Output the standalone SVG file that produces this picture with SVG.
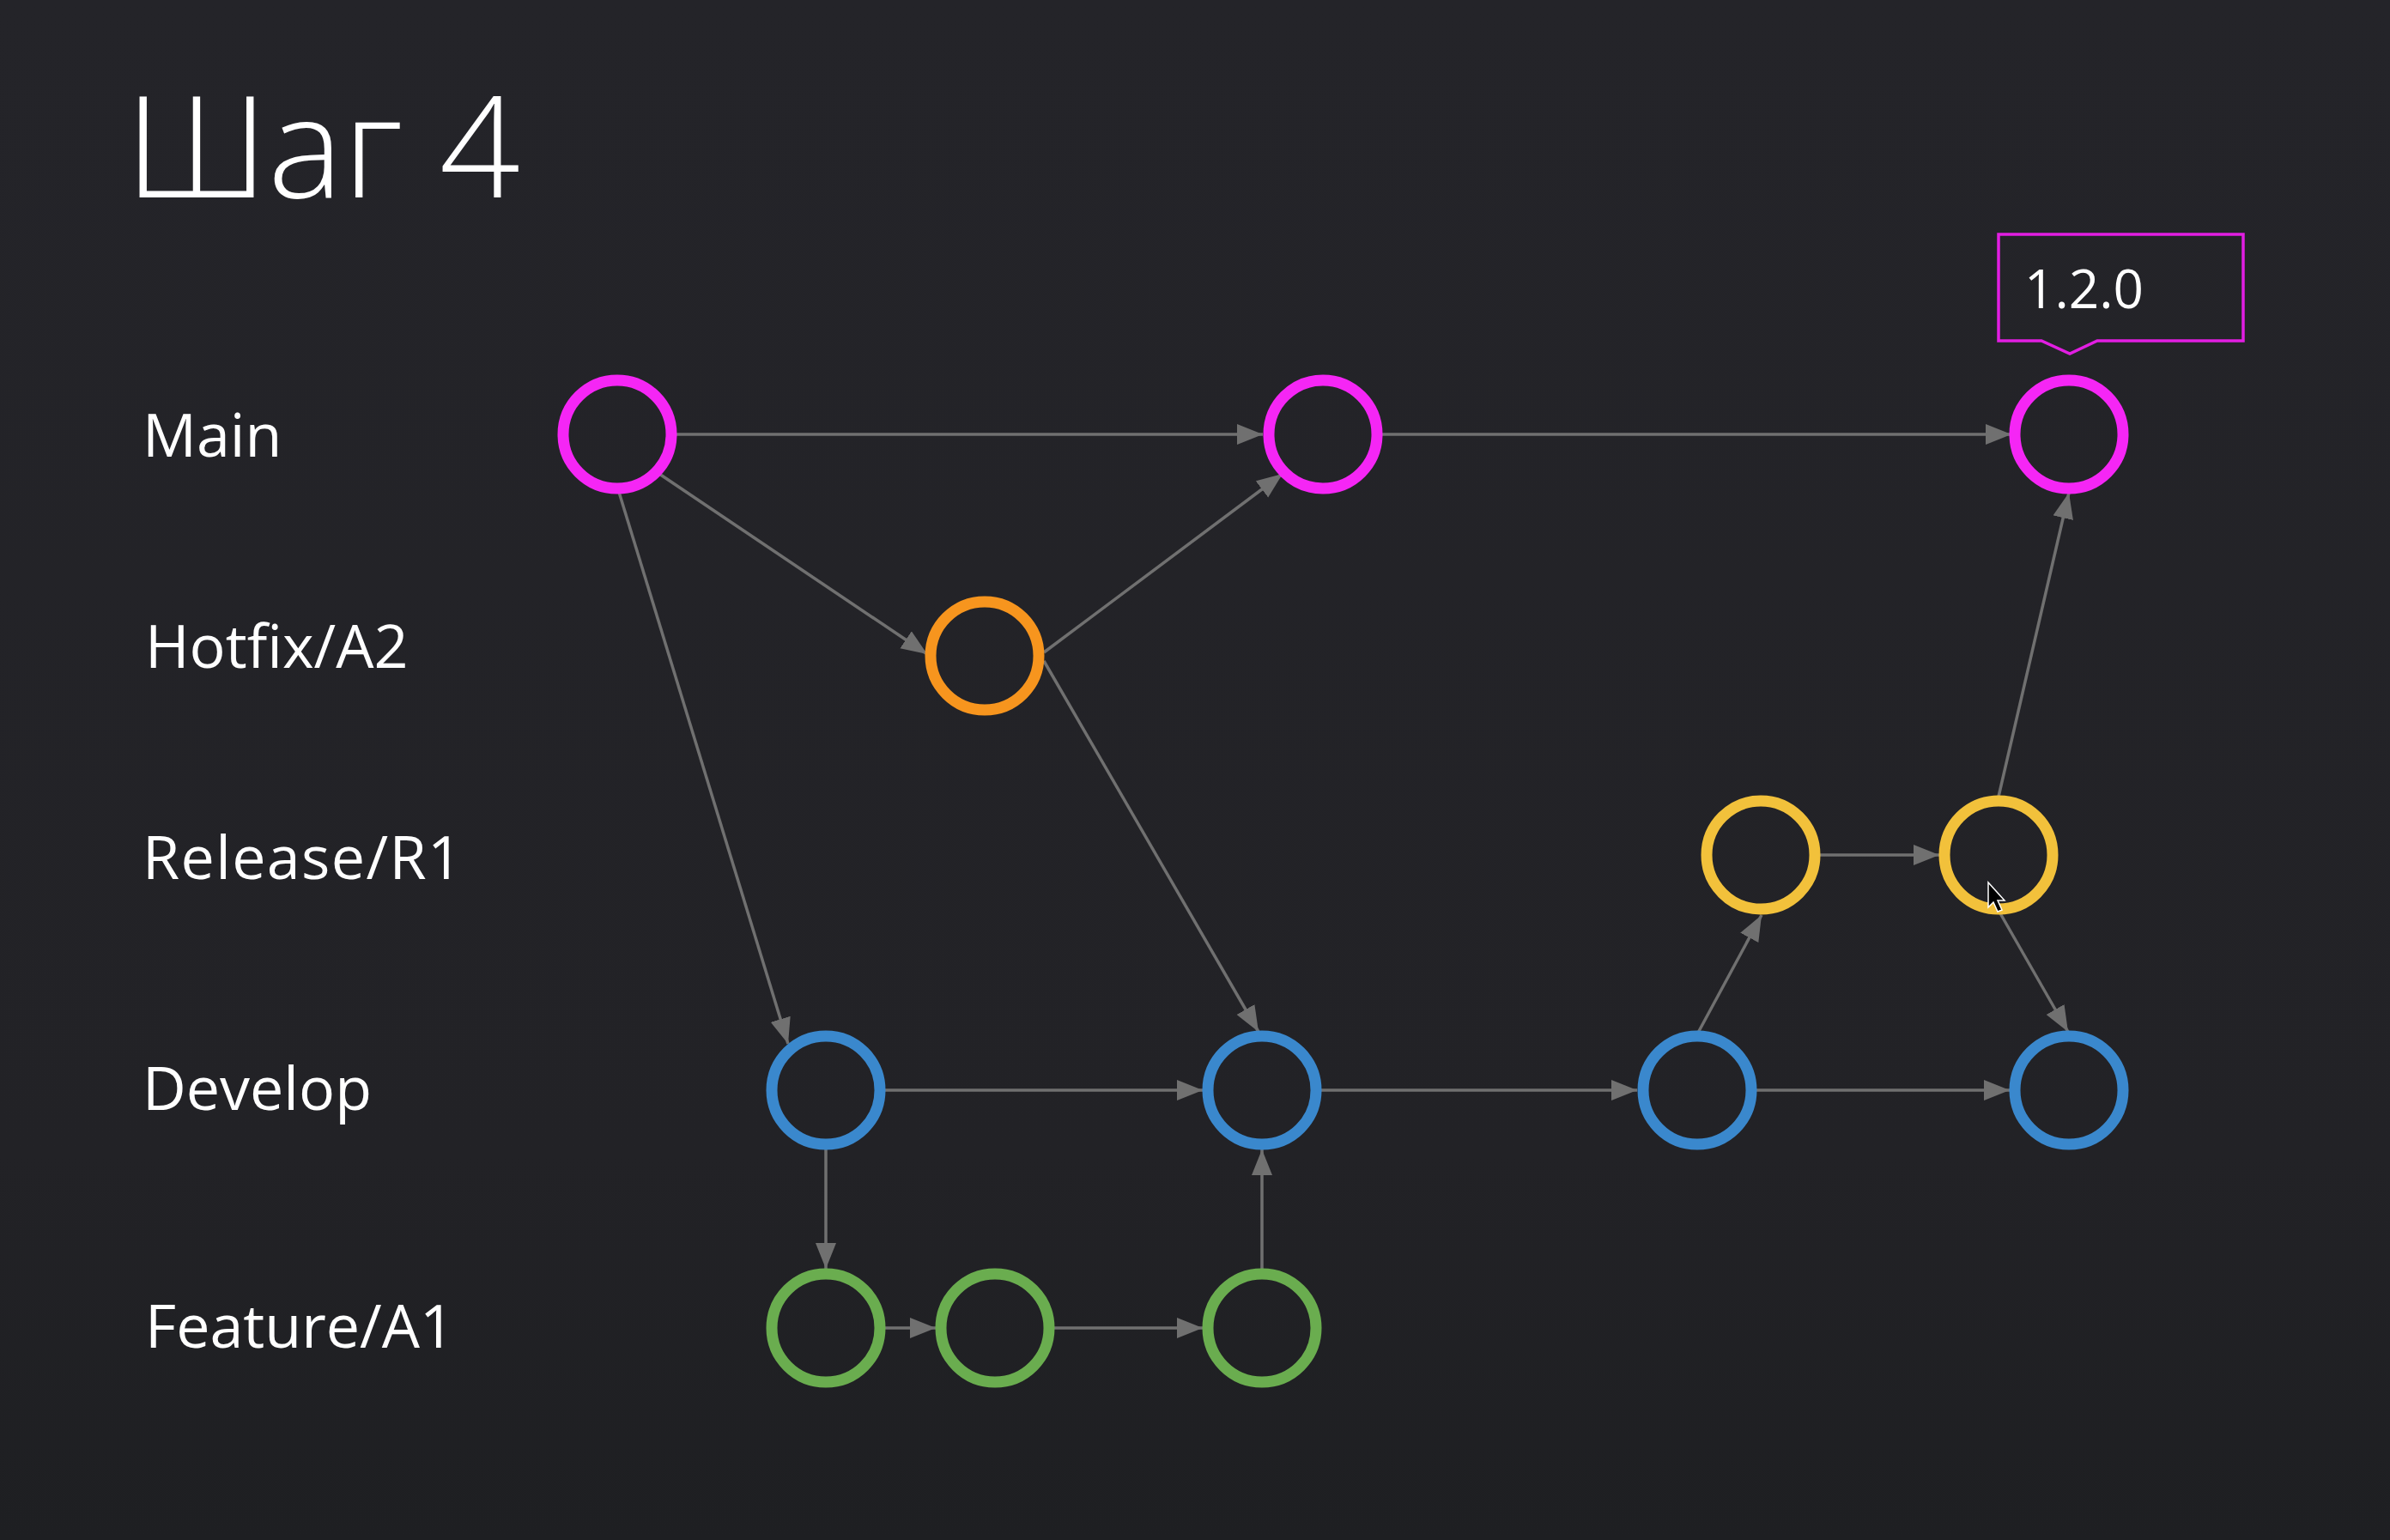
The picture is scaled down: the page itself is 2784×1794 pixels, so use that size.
<svg xmlns="http://www.w3.org/2000/svg" width="2784" height="1794" viewBox="0 0 2784 1794">
<defs>
<linearGradient id="bg" x1="0" y1="0" x2="0" y2="1">
<stop offset="0" stop-color="#242429"/>
<stop offset="0.75" stop-color="#222226"/>
<stop offset="1" stop-color="#1e1f22"/>
</linearGradient>
<marker id="arr" markerUnits="userSpaceOnUse" markerWidth="32" markerHeight="26" refX="30" refY="12" orient="auto">
<path d="M0,0 L30,12 L0,24 z" fill="#707070"/>
</marker>
<style>
.lbl{font-family:"Open Sans","Noto Sans","DejaVu Sans",sans-serif;font-size:70px;fill:#ffffff}
.title{font-family:"Open Sans","Noto Sans","DejaVu Sans",sans-serif;font-size:165px;font-weight:300;fill:#ffffff}
.tag{font-family:"Open Sans","Noto Sans","DejaVu Sans",sans-serif;font-size:62px;fill:#ffffff}
.c{fill:none;stroke-width:13}
.main{stroke:#f526f5}
.hot{stroke:#f7951e}
.rel{stroke:#f2c13b}
.dev{stroke:#3a88cd}
.feat{stroke:#6aad4f}
.e{stroke:#707070;stroke-width:3.5;fill:none;marker-end:url(#arr)}
</style>
</defs>
<rect x="0" y="0" width="2784" height="1794" fill="url(#bg)"/>
<text class="title" x="146" y="230">Шаг 4</text>
<g id="labels">
<text class="lbl" x="166" y="532">Main</text>
<text class="lbl" x="169" y="778">Hotfix/A2</text>
<text class="lbl" x="166" y="1024" textLength="372" lengthAdjust="spacing">Release/R1</text>
<text class="lbl" x="166" y="1293">Develop</text>
<text class="lbl" x="169" y="1570" textLength="360" lengthAdjust="spacing">Feature/A1</text>
</g>
<g id="connectors">
<line class="e" x1="785" y1="506" x2="1471" y2="506"/>
<line class="e" x1="1607" y1="506" x2="2343" y2="506"/>
<line class="e" x1="765" y1="550" x2="1080" y2="762"/>
<line class="e" x1="1216" y1="760" x2="1494" y2="552"/>
<line class="e" x1="720" y1="570" x2="918" y2="1216"/>
<line class="e" x1="1216" y1="770" x2="1466" y2="1202"/>
<line class="e" x1="1030" y1="1270" x2="1401" y2="1270"/>
<line class="e" x1="1538" y1="1270" x2="1907" y2="1270"/>
<line class="e" x1="2045" y1="1270" x2="2341" y2="1270"/>
<line class="e" x1="962" y1="1338" x2="962" y2="1478"/>
<line class="e" x1="1030" y1="1547" x2="1090" y2="1547"/>
<line class="e" x1="1226" y1="1547" x2="1401" y2="1547"/>
<line class="e" x1="1470" y1="1478" x2="1470" y2="1339"/>
<line class="e" x1="1978" y1="1203" x2="2052" y2="1066"/>
<line class="e" x1="2119" y1="996" x2="2259" y2="996"/>
<line class="e" x1="2328" y1="928" x2="2410" y2="574"/>
<line class="e" x1="2330" y1="1064" x2="2409" y2="1202"/>
</g>
<g id="node-main-1"><circle class="c main" cx="719" cy="506" r="63"/></g>
<g id="node-main-2"><circle class="c main" cx="1541" cy="506" r="63"/></g>
<g id="node-main-3"><circle class="c main" cx="2410" cy="506" r="63"/></g>
<g id="node-hotfix-1"><circle class="c hot" cx="1147" cy="764" r="63"/></g>
<g id="node-release-1"><circle class="c rel" cx="2051" cy="996" r="63"/></g>
<g id="node-release-2"><circle class="c rel" cx="2328" cy="996" r="63"/></g>
<g id="node-develop-1"><circle class="c dev" cx="962" cy="1270" r="63"/></g>
<g id="node-develop-2"><circle class="c dev" cx="1470" cy="1270" r="63"/></g>
<g id="node-develop-3"><circle class="c dev" cx="1977" cy="1270" r="63"/></g>
<g id="node-develop-4"><circle class="c dev" cx="2410" cy="1270" r="63"/></g>
<g id="node-feature-1"><circle class="c feat" cx="962" cy="1547" r="63"/></g>
<g id="node-feature-2"><circle class="c feat" cx="1159" cy="1547" r="63"/></g>
<g id="node-feature-3"><circle class="c feat" cx="1470" cy="1547" r="63"/></g>
<g id="tag-1-2-0">
<path d="M2328,273 H2613 V397 H2443 L2411,412 L2378,397 H2328 Z" fill="none" stroke="#e21ee2" stroke-width="3.5"/>
<text class="tag" x="2358" y="359">1.2.0</text>
</g>
<path d="M2316,1028 L2316,1057 L2322,1051 L2327,1062 L2332,1060 L2327,1049 L2335,1049 Z" fill="#000000" stroke="#ffffff" stroke-width="1.5"/>
</svg>
